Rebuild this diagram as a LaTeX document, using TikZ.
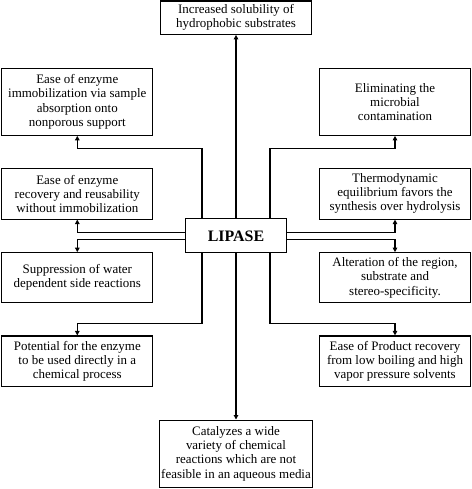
\documentclass[tikz,border=0pt]{standalone}
\usepackage{fontspec}
\setmainfont{Liberation Serif}
\usetikzlibrary{arrows.meta}
\tikzset{
  item/.style={draw,line width=1.1pt,minimum width=150.7bp,align=center,inner sep=2pt,font=\fontsize{13}{14.2}\selectfont},
  hub/.style={draw,line width=1.1pt,minimum width=100.7bp,minimum height=33.7bp,inner sep=2pt,font=\fontsize{16}{18}\selectfont\bfseries},
  link/.style={line width=1.1pt,-{Triangle[length=4.5pt,width=4.5pt]}}
}

\begin{document}
\begin{tikzpicture}[x=1bp,y=1bp]
    \useasboundingbox (0,0) rectangle (472,-489);
    %
    % -- Central node
    \node [hub] (lipase) at (236,-235.8) {LIPASE};

    % -- Top and bottom boxes
    \node [item, minimum height=33.3bp] (solub) at (236,-17.7)
      {Increased solubility of\\hydrophobic substrates};
    \node [item, minimum height=67.3bp] (catal) at (236,-453.7)
      {Catalyzes a wide\\variety of chemical\\reactions which are not\\feasible in an aqueous media};

    % -- Left column
    \node [item, minimum height=67bp] (immob) at (77.3,-101.8)
      {Ease of enzyme\\immobilization via sample\\absorption onto\\nonporous support};
    \node [item, minimum height=50.7bp] (recov) at (77.3,-193.7)
      {Ease of enzyme\\recovery and reusability\\without immobilization};
    \node [item, minimum height=50bp] (supp) at (77.3,-277.7)
      {Suppression of water\\dependent side reactions};
    \node [item, minimum height=50.7bp] (potent) at (77.3,-361.3)
      {Potential for the enzyme\\to be used directly in a\\chemical process};

    % -- Right column
    \node [item, minimum height=67bp] (elim) at (395,-101.8)
      {Eliminating the\\microbial\\contamination};
    \node [item, minimum height=50.7bp] (thermo) at (395,-193.7)
      {Thermodynamic\\equilibrium favors the\\synthesis over hydrolysis};
    \node [item, minimum height=50bp] (alter) at (395,-277.7)
      {Alteration of the region,\\substrate and\\stereo-specificity.};
    \node [item, minimum height=50.7bp] (product) at (395,-361.3)
      {Ease of Product recovery\\from low boiling and high\\vapor pressure solvents};

    % -- Connectors out of LIPASE
    \draw [link] (lipase.north) -- (solub.south);
    \draw [link] (lipase.south) -- (catal.north);
    \draw [link] ([xshift=-34bp]lipase.north) -- ++(0,70) -| (immob.south);
    \draw [link] ([xshift=34bp]lipase.north) -- ++(0,70) -| (elim.south);
    \draw [link] ([yshift=3.5bp]lipase.west) -| (recov.south);
    \draw [link] ([yshift=-3.5bp]lipase.west) -| (supp.north);
    \draw [link] ([yshift=3.5bp]lipase.east) -| (thermo.south);
    \draw [link] ([yshift=-3.5bp]lipase.east) -| (alter.north);
    \draw [link] ([xshift=-34bp]lipase.south) -- ++(0,-70) -| (potent.north);
    \draw [link] ([xshift=34bp]lipase.south) -- ++(0,-70) -| (product.north);
\end{tikzpicture}
\end{document}
